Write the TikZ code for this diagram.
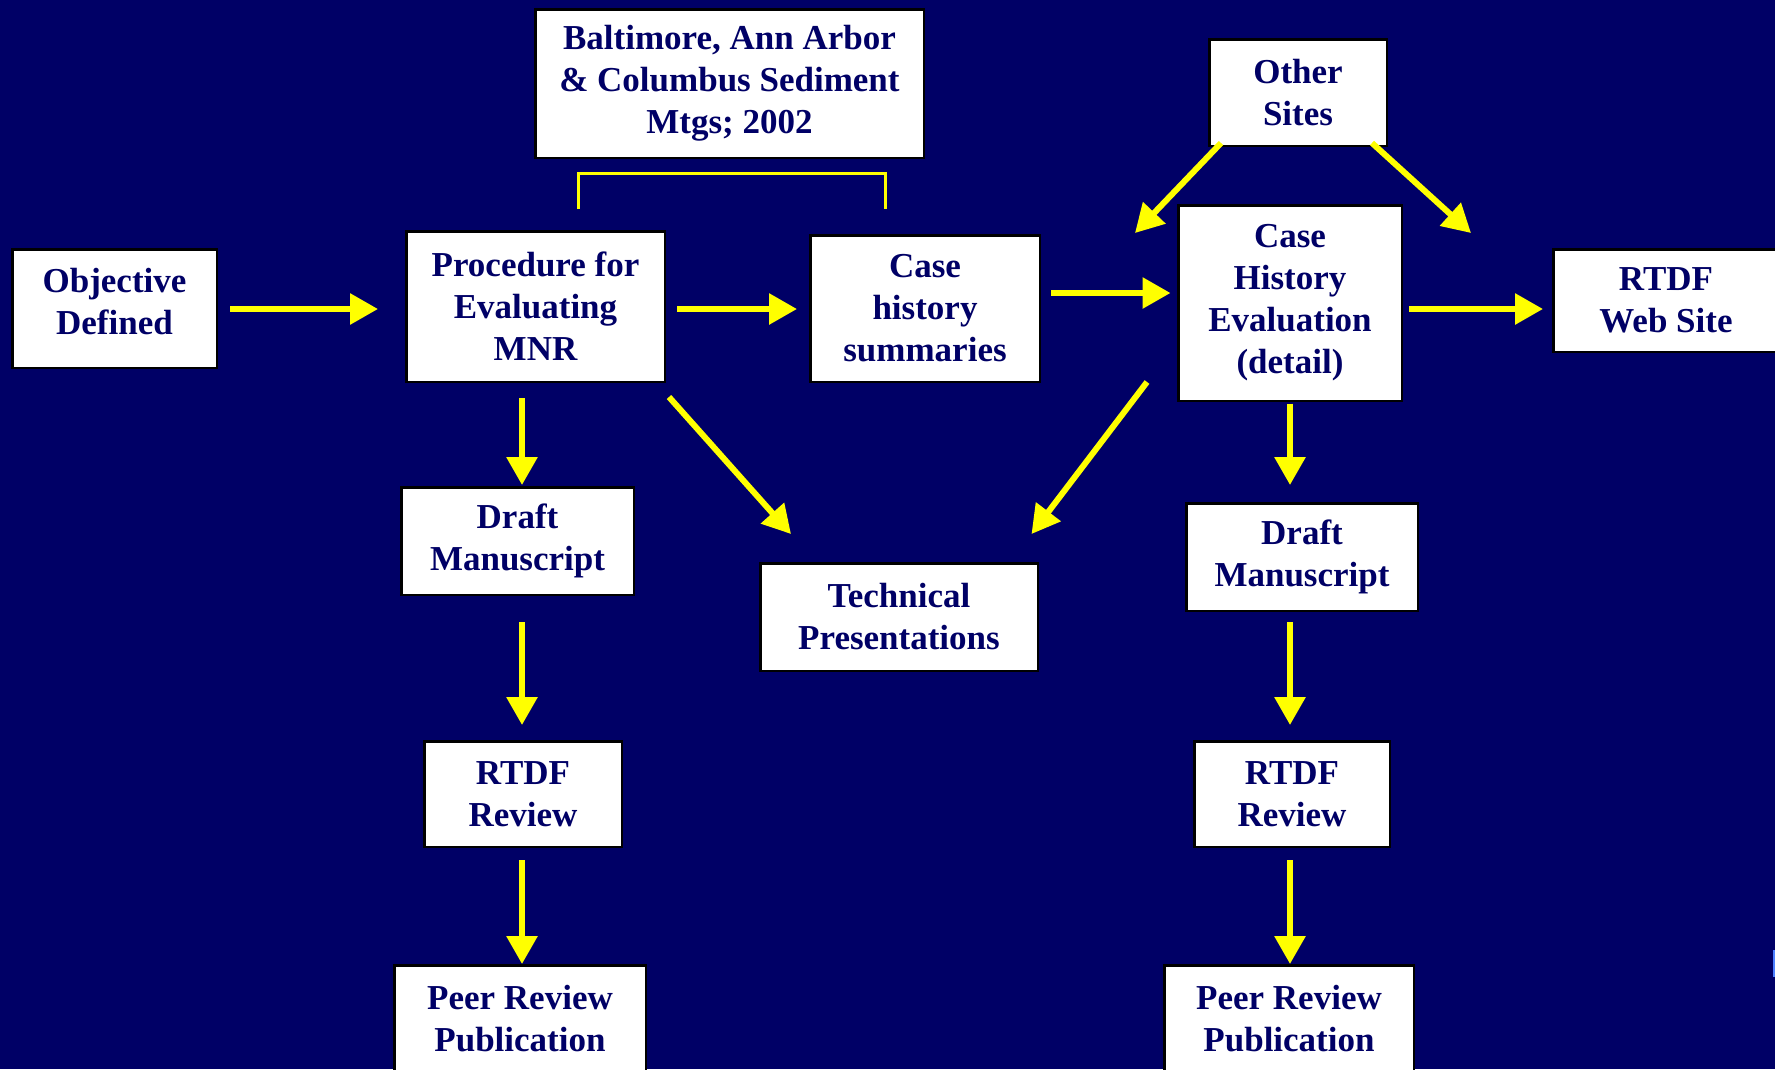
\documentclass[tikz,border=0pt]{standalone}
\usepackage{fontspec}
\setmainfont{Liberation Serif}
\usepackage{tikz}
\usetikzlibrary{arrows.meta}
\definecolor{slidenavy}{RGB}{0,0,102}
\definecolor{slideyellow}{RGB}{255,255,0}
\definecolor{edgeblue}{RGB}{77,128,255}

\begin{document}
\begin{tikzpicture}[x=1pt,y=-1pt,
  box/.style={draw=black, line width=2.5pt, fill=white, text=slidenavy, align=center,
    inner sep=0pt, font=\fontsize{35pt}{42pt}\selectfont\bfseries},
  flow/.style={slideyellow, line width=6pt, -{Triangle[length=28pt,width=30pt]}},
  bracket/.style={slideyellow, line width=3pt}]

% Slide background
\fill[slidenavy] (0,0) rectangle (1775,1069);
\useasboundingbox (0,0) rectangle (1775,1069);
\fill[edgeblue] (1773,950) rectangle (1775,977);

% Top row
\node[box, minimum width=204.5pt, minimum height=118.5pt, text depth=15pt] (obj) at (114.5,308.5) {Objective\\Defined};
\node[box, minimum width=258.5pt, minimum height=150.5pt] (proc) at (535.5,306.5) {Procedure for\\Evaluating\\MNR};
\node[box, minimum width=229.5pt, minimum height=146.5pt] (cases) at (925,308.5) {Case\\history\\summaries};
\node[box, minimum width=388.5pt, minimum height=148.5pt] (meet) at (729.5,83.5) {Baltimore, Ann Arbor\\\& Columbus Sediment\\Mtgs; 2002};
\node[box, minimum width=177.5pt, minimum height=106.5pt] (other) at (1298,92.5) {Other\\Sites};
\node[box, minimum width=223.5pt, minimum height=195.5pt] (che) at (1290,303) {Case\\History\\Evaluation\\(detail)};
\node[box, minimum width=225.5pt, minimum height=102.5pt] (web) at (1666,300.5) {RTDF\\Web Site};

% Left column
\node[box, minimum width=232.5pt, minimum height=107.5pt] (draftL) at (517.5,541) {Draft\\Manuscript};
\node[box, minimum width=197.5pt, minimum height=105.5pt] (revL) at (523,794) {RTDF\\Review};
\node[box, minimum width=251.5pt, minimum height=107.5pt] (pubL) at (520,1019) {Peer Review\\Publication};

% Middle
\node[box, minimum width=277.5pt, minimum height=107.5pt] (tech) at (899,617) {Technical\\Presentations};

% Right column
\node[box, minimum width=231.5pt, minimum height=107.5pt] (draftR) at (1302,557) {Draft\\Manuscript};
\node[box, minimum width=195.5pt, minimum height=105.5pt] (revR) at (1292,794) {RTDF\\Review};
\node[box, minimum width=249.5pt, minimum height=107.5pt] (pubR) at (1289,1019) {Peer Review\\Publication};

% Free ends of the arrows from Other Sites
\coordinate (inL) at (1135,233);
\coordinate (inR) at (1471,233);

% Bracket under the meetings box
\draw[bracket] ([shift={(42.5,-21)}]proc.north) |- ([shift={(0,14)}]meet.south) -| ([shift={(-40,-25)}]cases.north);

% Horizontal flow
\draw[flow] ([shift={(12,0.5)}]obj.east) -- ([shift={(-27,2.5)}]proc.west);
\draw[flow] ([shift={(11,2.5)}]proc.east) -- ([shift={(-12,0.5)}]cases.west);
\draw[flow] ([shift={(10,-15.5)}]cases.east) -- ([shift={(-6.5,-10)}]che.west);
\draw[flow] ([shift={(6,6)}]che.east) -- ([shift={(-9,8.5)}]web.west);

% Other sites
\draw[flow] ([shift={(13,-4)}]other.south west) -- (inL);
\draw[flow] ([shift={(-16,-4)}]other.south east) -- (inR);

% Into technical presentations
\draw[flow] ([shift={(3,14)}]proc.south east) -- ([shift={(32,-28)}]tech.north west);
\draw[flow] ([shift={(-30,-20)}]che.south west) -- ([shift={(-7.5,-28)}]tech.north east);

% Left chain
\draw[flow] ([shift={(-13.5,15)}]proc.south) -- ([shift={(4.5,-1)}]draftL.north);
\draw[flow] ([shift={(4.5,26)}]draftL.south) -- ([shift={(-1,-15)}]revL.north);
\draw[flow] ([shift={(-1,12)}]revL.south) -- ([shift={(2,0)}]pubL.north);

% Right chain
\draw[flow] ([shift={(0,1.5)}]che.south) -- ([shift={(-12,-17)}]draftR.north);
\draw[flow] ([shift={(-12,10)}]draftR.south) -- ([shift={(-2,-15)}]revR.north);
\draw[flow] ([shift={(-2,12)}]revR.south) -- ([shift={(1,0)}]pubR.north);

\end{tikzpicture}
\end{document}
